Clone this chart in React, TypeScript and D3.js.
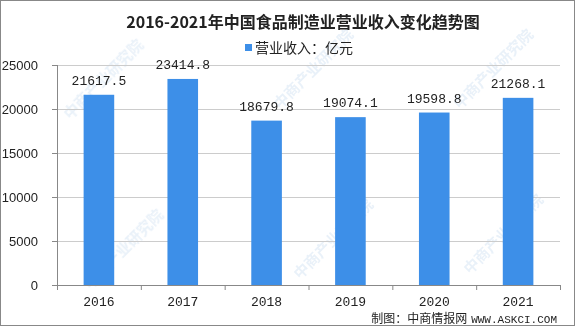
import React from "react";
import * as d3 from "d3";

const categories = ["2016", "2017", "2018", "2019", "2020", "2021"];
const values = [21617.5, 23414.8, 18679.8, 19074.1, 19598.8, 21268.1];
const yTicks = [0, 5000, 10000, 15000, 20000, 25000];
const title = "2016-2021年中国食品制造业营业收入变化趋势图";
const legendLabel = "营业收入：亿元";
const sourceCn = "制图：中商情报网";
const sourceEn = "WWW.ASKCI.COM";
const watermarkText = "中商产业研究院";

const W = 575;
const H = 326;
const margin = { left: 57, right: 15, top: 65, bottom: 41 };

export default function App() {
  const x = d3
    .scaleBand<string>()
    .domain(categories)
    .range([margin.left, W - margin.right])
    .paddingInner(0.635)
    .paddingOuter(0.3175);
  const y = d3.scaleLinear().domain([0, 25000]).range([H - margin.bottom, margin.top]);
  const x0 = margin.left;
  const x1 = W - margin.right;
  const boundaries = d3.range(categories.length + 1).map((i) => x0 + i * x.step());
  const bw = x.bandwidth();
  const cx = (c: string) => (x(c) as number) + bw / 2;

  const wm = [
    [70, 120], [280, 110], [460, 110], [90, 290], [300, 280], [470, 275],
  ];

  return (
    <svg width={W} height={H} style={{ position: "absolute", left: 0, top: 0, display: "block" }}>
      <rect x={0} y={0} width={W} height={H} fill="#fff" />
      {/* watermarks */}
      <g fill="#dbe8f5" opacity={0.6} fontFamily="Noto Sans CJK SC" fontSize={15} fontWeight="bold">
        {wm.map(([a, b], i) => (
          <g key={i} transform={`translate(${a},${b}) rotate(-45)`}>
            <text x={0} y={0}>{watermarkText}</text>
          </g>
        ))}
      </g>
      {/* grid */}
      {yTicks.slice(1).map((t) => (
        <line key={t} x1={x0} x2={x1} y1={Math.round(y(t)) + 0.5} y2={Math.round(y(t)) + 0.5} stroke="#cccccc" strokeWidth={1} />
      ))}
      {/* bars */}
      {categories.map((c, i) => (
        <rect key={c} x={x(c)} y={y(values[i])} width={bw} height={y(0) - y(values[i])} fill="#3d8fe8" />
      ))}
      {/* axes */}
      <line x1={x0 + 0.5} x2={x0 + 0.5} y1={y(25000)} y2={y(0)} stroke="#888" />
      {yTicks.map((t) => (
        <line key={t} x1={x0 - 5} x2={x0} y1={Math.round(y(t)) + 0.5} y2={Math.round(y(t)) + 0.5} stroke="#888" />
      ))}
      <line x1={x0 - 5} x2={x1} y1={y(0) + 0.5} y2={y(0) + 0.5} stroke="#888" />
      {boundaries.map((b, i) => (
        <line key={i} x1={b + 0.5} x2={b + 0.5} y1={y(0)} y2={y(0) + 5} stroke="#888" />
      ))}
      {/* y tick labels */}
      {yTicks.map((t) => (
        <text key={t} x={38} y={y(t)} dy="0.35em" textAnchor="end" fontFamily="Liberation Sans, Arial" fontSize={13} fill="#222">
          {t}
        </text>
      ))}
      {/* x labels */}
      {categories.map((c) => (
        <text key={c} x={cx(c)} y={306} textAnchor="middle" fontFamily="Liberation Mono, monospace" fontSize={13} fill="#222">
          {c}
        </text>
      ))}
      {/* data labels */}
      {categories.map((c, i) => (
        <text key={c} x={cx(c)} y={y(values[i]) - 10} textAnchor="middle" fontFamily="Liberation Mono, monospace" fontSize={13} fill="#222">
          {values[i].toFixed(1)}
        </text>
      ))}
      {/* title */}
      <text x={303} y={28} textAnchor="middle" fontFamily="Noto Sans CJK SC" fontWeight="bold" fontSize={16} fill="#222">
        {title}
      </text>
      {/* legend */}
      <rect x={245} y={44} width={7} height={7} fill="#3d8fe8" />
      <text x={255} y={52.5} fontFamily="Noto Sans CJK SC" fontSize={14} fill="#222">
        {legendLabel}
      </text>
      {/* source */}
      <text x={557} y={323} textAnchor="end" fontFamily="Noto Sans CJK SC" fontSize={12} fill="#222">
        {sourceCn}
        <tspan fontFamily="Liberation Mono, monospace" fontSize={11} dx={4}>{sourceEn}</tspan>
      </text>
      {/* border */}
      <rect x={0.5} y={0.5} width={W - 1} height={H - 1} fill="none" stroke="#888" />
    </svg>
  );
}
